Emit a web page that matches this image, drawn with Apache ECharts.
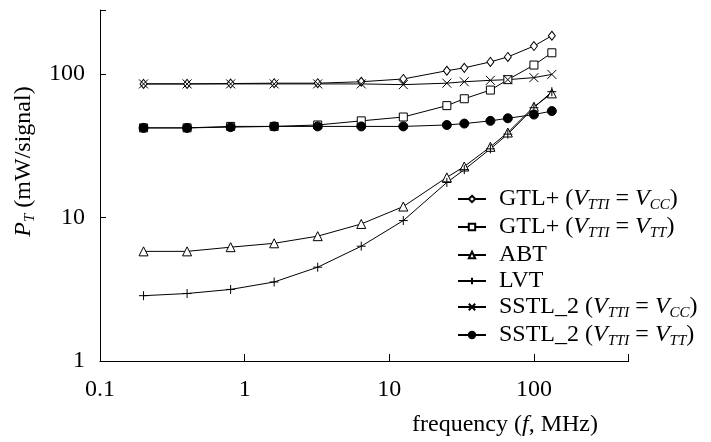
<!DOCTYPE html>
<html>
<head>
<meta charset="UTF-8">
<title>P_T vs frequency</title>
<script src="https://cdn.jsdelivr.net/npm/echarts@6/dist/echarts.min.js"></script>
<style>
  html, body { margin: 0; padding: 0; background: #fff; }
  #main { width: 711px; height: 442px; }
</style>
</head>
<body>
<div id="main"></div>
<script>
// frequency (MHz)
var freq = [0.2, 0.4, 0.8, 1.6, 3.2, 6.4, 12.5, 25, 33, 50, 66, 100, 133];
// P_T (mW/signal)
var gtlVcc  = [85, 85, 85.5, 86, 86, 88, 92, 105, 110, 121, 131, 156, 184];
var gtlVtt  = [42, 42, 43, 43, 44, 47, 50, 60, 67, 77, 91, 115, 140];
var abt     = [5.8, 5.8, 6.2, 6.6, 7.4, 9.0, 11.9, 19, 22.6, 31, 39, 59, 73];
var lvt     = [2.85, 2.95, 3.15, 3.55, 4.5, 6.3, 9.5, 17.5, 21.5, 30, 38, 58, 75];
var sstlVcc = [85, 85, 85, 85, 85, 85, 84, 86, 88, 90, 91, 94, 99];
var sstlVtt = [42, 42, 42.5, 43, 43, 43, 43, 44, 45, 47, 49, 52, 55];

var xTicks = [0.1, 1, 10, 100];
var yTicks = [1, 10, 100];

var names = ['GTL+ (VTTI = VCC)', 'GTL+ (VTTI = VTT)', 'ABT', 'LVT', 'SSTL_2 (VTTI = VCC)', 'SSTL_2 (VTTI = VTT)'];
var richNames = {
    'GTL+ (VTTI = VCC)': '{n|GTL+ (}{i|V}{s|TTI}{n| = }{i|V}{s|CC}{n|)}',
    'GTL+ (VTTI = VTT)': '{n|GTL+ (}{i|V}{s|TTI}{n| = }{i|V}{s|TT}{n|)}',
    'ABT': '{n|ABT}',
    'LVT': '{n|LVT}',
    'SSTL_2 (VTTI = VCC)': '{n|SSTL_2 (}{i|V}{s|TTI}{n| = }{i|V}{s|CC}{n|)}',
    'SSTL_2 (VTTI = VTT)': '{n|SSTL_2 (}{i|V}{s|TTI}{n| = }{i|V}{s|TT}{n|)}'
};

var FONT = "'Liberation Serif', 'Times New Roman', serif";
var rich = {
    n: { fontFamily: FONT, fontSize: 24, color: '#000', lineHeight: 28 },
    i: { fontFamily: FONT, fontSize: 24, fontStyle: 'italic', color: '#000', lineHeight: 28 },
    s: { fontFamily: FONT, fontSize: 15, fontStyle: 'italic', color: '#000', lineHeight: 15, verticalAlign: 'bottom' }
};

var plusPath = 'path://M0,5L10,5M5,0L5,10';
var crossPath = 'path://M0,0L10,10M0,10L10,0';

function pairs(ys) {
    var out = [];
    for (var i = 0; i < freq.length; i++) {
        out.push([freq[i], ys[i]]);
    }
    return out;
}

function mkSeries(name, ys, symbol, size, fill) {
    return {
        name: name,
        type: 'line',
        data: pairs(ys),
        symbol: symbol,
        symbolSize: size,
        showAllSymbol: true,
        lineStyle: { color: '#000', width: 1 },
        itemStyle: { color: fill, borderColor: '#000', borderWidth: 1 },
        emphasis: { disabled: true },
        animation: false
    };
}

// only decades get a label
function decade(list) {
    return function (v) {
        for (var i = 0; i < list.length; i++) {
            if (Math.abs(v - list[i]) < list[i] * 1e-6) return String(list[i]);
        }
        return '';
    };
}

var myChart = echarts.init(document.getElementById('main'));
var option = {
    backgroundColor: '#fff',
    grid: { left: 100, right: 83, top: 10, bottom: 80 },
    legend: {
        orient: 'vertical',
        left: 452,
        top: 182,
        itemWidth: 28,
        itemHeight: 8,
        itemGap: 2,
        data: names,
        formatter: function (name) { return richNames[name]; },
        textStyle: { rich: rich, padding: [0, 0, 0, 8] },
        selectedMode: false
    },
    xAxis: [{
        type: 'log',
        logBase: 10,
        min: 0.1,
        max: 447,
        interval: 1,
        name: '{n|frequency (}{i|f}{n|, MHz)}',
        nameLocation: 'middle',
        nameGap: 50,
        nameTextStyle: { rich: rich, padding: [0, 0, 0, 282] },
        axisLine: { show: true, lineStyle: { color: '#000', width: 1 } },
        axisTick: { show: false },
        axisLabel: {
            formatter: decade(xTicks),
            showMaxLabel: false,
            margin: 17,
            fontFamily: FONT,
            fontSize: 24,
            color: '#000'
        },
        splitLine: { show: false },
        minorTick: { show: false }
    }, {
        // tick marks only: a top axis moved down onto the bottom one, ticks point up
        type: 'log',
        logBase: 10,
        min: 0.1,
        max: 447,
        interval: 1,
        position: 'top',
        offset: -352,
        axisLine: { show: false },
        axisTick: { show: true, length: 8, lineStyle: { color: '#000', width: 1 } },
        axisLabel: { show: false },
        splitLine: { show: false }
    }],
    yAxis: [{
        type: 'log',
        logBase: 10,
        min: 1,
        max: 278,
        interval: 1,
        name: '{i|P}{s|T}{n| (mW/signal)}',
        nameLocation: 'middle',
        nameRotate: 90,
        nameGap: 62,
        nameTextStyle: { rich: rich, padding: [0, 0, 0, 48] },
        axisLine: { show: true, lineStyle: { color: '#000', width: 1 } },
        axisTick: { show: false },
        axisLabel: {
            formatter: decade(yTicks),
            showMaxLabel: false,
            margin: 15,
            fontFamily: FONT,
            fontSize: 24,
            color: '#000'
        },
        splitLine: { show: false },
        minorTick: { show: false }
    }, {
        // tick marks only: a right axis moved onto the left one, ticks point right
        type: 'log',
        logBase: 10,
        min: 1,
        max: 278,
        interval: 1,
        position: 'right',
        offset: -528,
        axisLine: { show: false },
        axisTick: { show: true, length: 6, lineStyle: { color: '#000', width: 1 } },
        axisLabel: { show: false },
        splitLine: { show: false }
    }],
    series: [
        mkSeries(names[0], gtlVcc, 'diamond', [7, 9], '#fff'),
        mkSeries(names[1], gtlVtt, 'rect', 8, '#fff'),
        mkSeries(names[2], abt, 'triangle', 9, '#fff'),
        mkSeries(names[3], lvt, plusPath, 9, '#fff'),
        mkSeries(names[4], sstlVcc, crossPath, 9, '#fff'),
        mkSeries(names[5], sstlVtt, 'circle', 9, '#000')
    ]
};
myChart.setOption(option);
</script>
</body>
</html>
